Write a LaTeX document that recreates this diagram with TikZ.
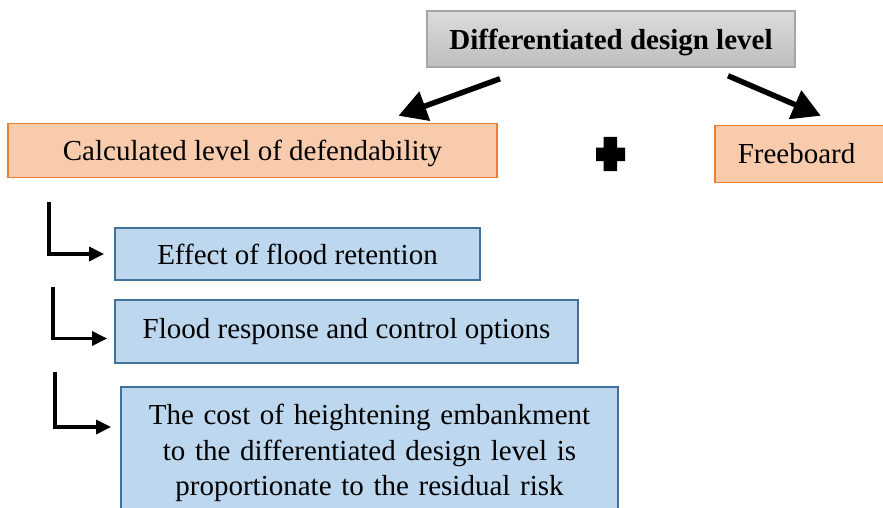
\documentclass[tikz,border=0pt]{standalone}
\usepackage{fontspec}
\setmainfont{Liberation Serif}
\usetikzlibrary{arrows.meta,calc,positioning}
\definecolor{boxorange}{HTML}{F8CBAD}
\definecolor{lineorange}{HTML}{ED7D31}
\definecolor{boxblue}{HTML}{BDD7EE}
\definecolor{lineblue}{HTML}{41719C}
\definecolor{greytop}{HTML}{DCDCDC}
\definecolor{greybot}{HTML}{BEBEBE}
\definecolor{linegrey}{HTML}{A6A6A6}

\begin{document}
\begin{tikzpicture}[x=1pt,y=-1pt, every node/.style={font=\fontsize{29}{35.5}\selectfont},
    levelbox/.style={draw=linegrey,line width=1.5pt,top color=greytop,bottom color=greybot,
      minimum width=368pt,minimum height=56pt,text depth=0pt,font=\fontsize{29}{35.5}\selectfont\bfseries},
    partbox/.style={draw=lineorange,line width=1.5pt,fill=boxorange,minimum height=54pt},
    itembox/.style={draw=lineblue,line width=1.8pt,fill=boxblue},
    bigarrow/.style={line width=5.5pt,-{Triangle[length=28pt,width=30pt]}},
    elbow/.style={line width=3.2pt,-{Triangle[length=15pt,width=14pt]}}]
  \useasboundingbox (0,0) rectangle (883,508);

  \node[levelbox] (dlevel) at (611,39) {Differentiated design level};
  \node[partbox,minimum width=489pt,text depth=0pt] (defend) at (252.5,150.5) {Calculated level of defendability};
  \node[partbox,anchor=west,minimum height=57pt,text width=150pt,inner xsep=23pt,align=left]
    (free) at (714,154) {Freeboard};

  \draw[bigarrow] ([xshift=-111pt,yshift=-11pt]dlevel.south) -- ([xshift=146pt,yshift=7pt]defend.north);
  \draw[bigarrow] ([xshift=117pt,yshift=-8pt]dlevel.south) -- ([xshift=8pt,yshift=9pt]free.north west -| free.north);
  \fill (603.5,137) rectangle (617,171) (596,147.5) rectangle (625,161);

  \node[itembox,minimum width=365pt,minimum height=52pt] (ret) at (297.5,254) {Effect of flood retention};
  \node[itembox,minimum width=463pt,minimum height=63pt] (resp) at (346.5,331.5) {Flood response and control options};
  \node[itembox,anchor=north,minimum width=497pt,minimum height=132pt,text width=480pt,
    align=center,inner ysep=3pt] (cost) at (369.5,386)
    {The cost of heightening embankment\\ to the differentiated design level is\\ proportionate to the residual risk};

  \coordinate (e1) at (49,202);
  \coordinate (e2) at (53,287);
  \coordinate (e3) at (55,372);
  \draw[elbow,shorten >=10pt] (e1) |- (ret.west);
  \draw[elbow,shorten >=7pt] (e2) |- ([yshift=-7pt]resp.west);
  \draw[elbow,shorten >=9pt] (e3) |- ([yshift=-41pt]cost.north west);
\end{tikzpicture}
\end{document}
